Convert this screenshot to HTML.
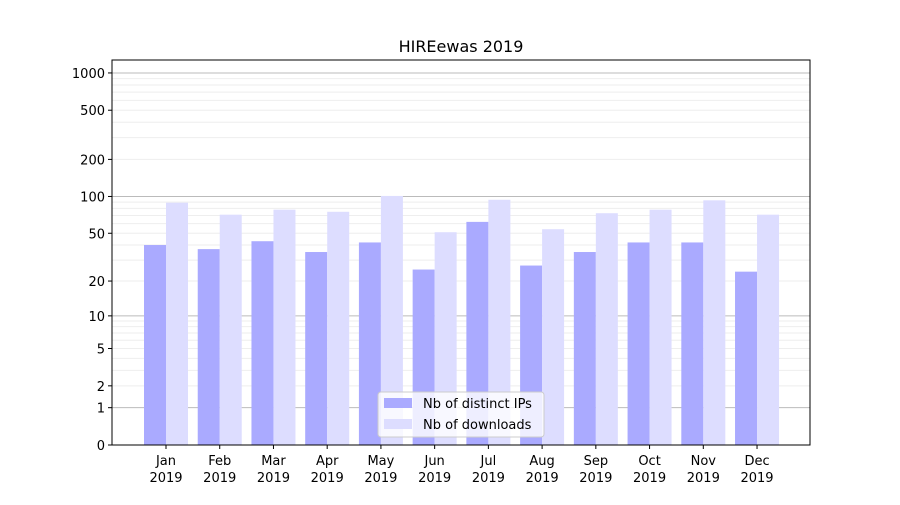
<!DOCTYPE html>
<html><head><meta charset="utf-8"><style>
body{margin:0;background:#fff;font-family:"Liberation Sans","DejaVu Sans",sans-serif;}
svg text{font-family:"DejaVu Sans","Liberation Sans",sans-serif;}
</style></head><body>
<svg id="chart" width="900" height="500" xmlns="http://www.w3.org/2000/svg">
<rect width="900" height="500" fill="#fff"/>
<text x="461" y="52" font-size="16" text-anchor="middle">HIREewas 2019</text>
<g id="grid"></g><g id="bars"></g><g id="axes"></g>
<g>
<rect x="378" y="392" width="166" height="45" fill="#fff" fill-opacity="0.8" stroke="#ccc" rx="3"/>
<rect x="384" y="398" width="28" height="10" fill="#aaaaff"/>
<text x="423" y="408" font-size="13">Nb of distinct IPs</text>
<rect x="384" y="419" width="28" height="10" fill="#ddddff"/>
<text x="423" y="429" font-size="13">Nb of downloads</text>
</g>
</svg>
<script>
const months=["Jan","Feb","Mar","Apr","May","Jun","Jul","Aug","Sep","Oct","Nov","Dec"];
const ips=[40,37,43,35,42,25,62,27,35,42,42,24];
const downloads=[89,71,78,75,101,51,94,54,73,78,93,71];
const yTicks=[0,1,2,5,10,20,50,100,200,500,1000];
const NS="http://www.w3.org/2000/svg";
const L=112,R=810,T=60,B=445;
function y(v){return B-124*Math.log10(1+v);}
function x(i){return 166+i*53.73;}
function mk(tag,attrs,parent){const e=document.createElementNS(NS,tag);for(const k in attrs)e.setAttribute(k,attrs[k]);parent.appendChild(e);return e;}
const grid=document.getElementById('grid'),bars=document.getElementById('bars'),axes=document.getElementById('axes');
// minor grid
[2,3,4,5,6,7,8,9,20,30,40,50,60,70,80,90,200,300,400,500,600,700,800,900].forEach(v=>{
 const l=mk('line',{x1:L,x2:R,y1:y(v),y2:y(v),stroke:'#eee','stroke-width':1},grid);
 
 
});
[1,10,100,1000].forEach(v=>{
 const l=mk('line',{x1:L,x2:R,y1:y(v),y2:y(v),stroke:'#bbb','stroke-width':1},grid);
 
 
});
months.forEach((m,i)=>{
 const a=mk('rect',{x:x(i)-22,y:y(ips[i]),width:22,height:B-y(ips[i]),fill:'#aaaaff'},bars);
 
 
 const b=mk('rect',{x:x(i),y:y(downloads[i]),width:22,height:B-y(downloads[i]),fill:'#ddddff'},bars);
 
 
 mk('line',{x1:x(i),x2:x(i),y1:B,y2:B+4,stroke:'#000'},axes);
 const t=mk('text',{x:x(i),y:B+20,'font-size':13,'text-anchor':'middle'},axes);
 
 
 t.textContent=m;
 const t2=mk('text',{x:x(i),y:B+37,'font-size':13,'text-anchor':'middle'},axes);
 
 
 t2.textContent='2019';
});
yTicks.forEach(v=>{
 mk('line',{x1:L-4,x2:L,y1:y(v),y2:y(v),stroke:'#000'},axes);
 const t=mk('text',{x:L-7,y:y(v)+5,'font-size':13,'text-anchor':'end'},axes);
 
 
 t.textContent=v;
});
const fr=mk('rect',{x:L,y:T,width:R-L,height:B-T,fill:'none',stroke:'#000','stroke-width':1},axes);


</script>
</body></html>
